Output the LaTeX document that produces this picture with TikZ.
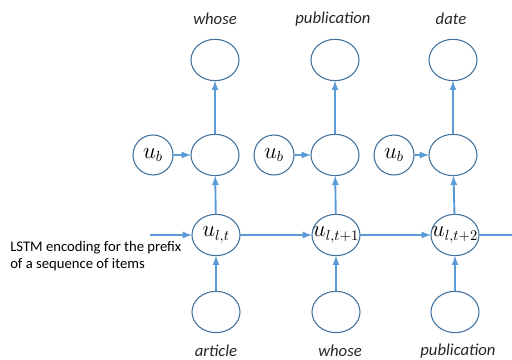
\documentclass[tikz,border=0pt]{standalone}
\usepackage{amsmath, amssymb}
\usepackage{fontspec}
\setmainfont{Carlito}
\usepackage{tkz-graph}
\usetikzlibrary{arrows}
\usetikzlibrary{shapes}

\definecolor{ringBlue}{HTML}{41719C}
\definecolor{wireBlue}{HTML}{5B9BD5}

\begin{document}
\begin{tikzpicture}[x = 0.75pt, y = 0.75pt]
	\useasboundingbox (0,0) rectangle (512,360);
	\tikzstyle{VertexStyle} = []
	\tikzstyle{EdgeStyle} = [draw = wireBlue, line width = 1.4pt, -latex]
	\tikzstyle{plainEdge} = [draw = wireBlue, line width = 1.4pt]
	\tikzstyle{cellStyle} = [shape = ellipse, minimum width = 36pt, minimum height = 31pt, inner sep = 0pt, draw = ringBlue, line width = 0.8pt]
	\tikzstyle{biasStyle} = [shape = circle, minimum size = 30pt, inner sep = 0pt, draw = ringBlue, line width = 0.8pt]
	\tikzstyle{wordStyle} = [font = \fontsize{12.5}{14}\selectfont\itshape, text = black!85]
	% output words
	\Vertex[style = cellStyle, x = 215, y = 300, NoLabel]{t1}
	\Vertex[style = cellStyle, x = 335, y = 300, NoLabel]{t2}
	\Vertex[style = cellStyle, x = 453, y = 300, NoLabel]{t3}
	% hidden layer
	\Vertex[style = cellStyle, x = 215, y = 205, NoLabel]{m1}
	\Vertex[style = cellStyle, x = 335, y = 205, NoLabel]{m2}
	\Vertex[style = cellStyle, x = 453, y = 205, NoLabel]{m3}
	\Vertex[style = biasStyle, x = 153, y = 205, L = {\fontsize{16}{18}\selectfont $u_b$}]{b1}
	\Vertex[style = biasStyle, x = 274, y = 205, L = {\fontsize{16}{18}\selectfont $u_b$}]{b2}
	\Vertex[style = biasStyle, x = 394, y = 205, L = {\fontsize{16}{18}\selectfont $u_b$}]{b3}
	% LSTM states
	\Vertex[style = cellStyle, x = 216, y = 125, L = {\makebox[0pt]{\fontsize{16}{18}\selectfont $u_{l,t}$}}]{r1}
	\Vertex[style = cellStyle, x = 336, y = 125, L = {\makebox[0pt]{\fontsize{16}{18}\selectfont $u_{l,t+1}$}}]{r2}
	\Vertex[style = cellStyle, x = 455, y = 125, L = {\makebox[0pt]{\fontsize{16}{18}\selectfont $u_{l,t+2}$}}]{r3}
	% input words
	\Vertex[style = cellStyle, x = 216, y = 48, NoLabel]{i1}
	\Vertex[style = cellStyle, x = 336, y = 48, NoLabel]{i2}
	\Vertex[style = cellStyle, x = 455, y = 48, NoLabel]{i3}
	\coordinate (in) at (150,125);
	\coordinate (out) at (512,125);
	\node[wordStyle] (w1) at (215,341) {whose};
	\node[wordStyle] (w2) at (333,341) {publication};
	\node[wordStyle] (w3) at (451,341) {date};
	\node[wordStyle] (x1) at (216,9) {article};
	\node[wordStyle] (x2) at (340,9) {whose};
	\node[wordStyle] (x3) at (458,9) {publication};
	\node[anchor = west, align = left, inner sep = 0pt, font = \fontsize{11}{13}\selectfont] (note) at (10,104) {LSTM encoding for the prefix\\of a sequence of items};
	\Edge(i1)(r1)
	\Edge(i2)(r2)
	\Edge(i3)(r3)
	\Edge(r1)(m1)
	\Edge(r2)(m2)
	\Edge(r3)(m3)
	\Edge(m1)(t1)
	\Edge(m2)(t2)
	\Edge(m3)(t3)
	\Edge(b1)(m1)
	\Edge(b2)(m2)
	\Edge(b3)(m3)
	\Edge(in)(r1)
	\Edge(r1)(r2)
	\Edge(r2)(r3)
	\draw[plainEdge] (r3) -- (out);
\end{tikzpicture}
\end{document}
